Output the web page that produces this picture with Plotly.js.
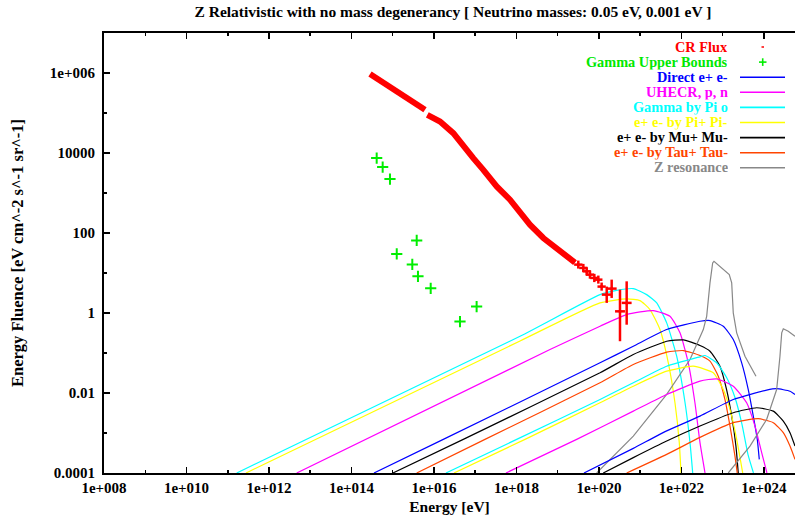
<!DOCTYPE html>
<html>
<head>
<meta charset="utf-8">
<script src="https://cdn.plot.ly/plotly-3.0.1.min.js"></script>
<style>html,body{margin:0;padding:0;background:#fff;overflow:hidden}</style>
</head>
<body>
<div id="chart" style="width:795px;height:525px"></div>
<script>
// ---------- data (Energy [eV], Fluence) ----------
const xTickVals = [1e8, 1e10, 1e12, 1e14, 1e16, 1e18, 1e20, 1e22, 1e24];
const xTickText = ["1e+008","1e+010","1e+012","1e+014","1e+016","1e+018","1e+020","1e+022","1e+024"];
const xMinorVals = [1e9, 1e11, 1e13, 1e15, 1e17, 1e19, 1e21, 1e23];
const yTickVals = [1e-4, 1e-2, 1, 100, 1e4, 1e6];
const yTickText = ["0.0001","0.01","1","100","10000","1e+006"];
const yMinorVals = [1e-3, 1e-1, 10, 1e3, 1e5];

// CR flux band (dense measurements)
const crE = [2.81e14, 8.57e14, 2.18e15, 6.05e15, null, 6.89e15, 1.40e16, 2.94e16, 5.13e16, 8.97e16, 1.57e17, 3.31e17, 6.95e17, 1.22e18, 2.12e18, 4.47e18, 9.44e18, 1.80e19, 2.62e19];
const crF = [9.49e5, 4.57e5, 2.57e5, 1.20e5, null, 8.98e4, 6.11e4, 3.13e4, 1.45e4, 7.45e3, 3.80e3, 1.46e3, 678, 316, 161, 75.0, 42.3, 23.8, 18.2];
// CR flux, highest-energy points with error bars
const crbE  = [3.15e19, 4.17e19, 5.04e19, 6.05e19, 7.71e19, 9.64e19, 1.16e20, 1.54e20, 2.03e20, 3.23e20, 4.69e20];
const crbF  = [16.2, 13.4, 11.0, 9.10, 7.52, 6.82, 4.57, 2.88, 4.07, 1.10, 1.79];
const crbUp = [4.2, 3.5, 2.9, 2.4, 2.0, 1.8, 1.2, 1.69, 2.76, 2.74, 4.40];
const crbDn = [3.3, 2.8, 2.3, 1.9, 1.6, 1.4, 0.95, 1.09, 1.69, 0.903, 1.28];
const crbEp = [8.2e18, 1.08e19, 1.31e19, 1.57e19, 2.0e19, 2.5e19, 3.0e19, 4.9e19, 6.5e19, 1.03e20, 1.49e20];
const crbEm = [6.5e18, 8.6e18, 1.04e19, 1.25e19, 1.59e19, 2.0e19, 2.4e19, 3.7e19, 4.9e19, 7.8e19, 1.13e20];

// Gamma upper bounds
const gE = [4.08e14, 5.70e14, 8.57e14, 1.25e15, 2.98e15, 3.81e15, 4.09e15, 8.32e15, 4.27e16, 1.08e17];
const gF = [7450, 4450, 2230, 29.9, 16.4, 65.3, 8.26, 4.14, 0.611, 1.45];

// Neutrino mass 0.05 eV set
const direct1E = [3.51e14, 1.68e16, 1.06e20, 6.79e20, 4.38e21, 2.81e22, 4.91e22, 1.03e23, 1.80e23, 2.88e23, 4.16e23, 5.51e23, 6.88e23, 7.69e23];
const direct1F = [1e-4, 6.92e-4, 0.0569, 0.148, 0.386, 0.621, 0.647, 0.467, 0.217, 0.0569, 0.0122, 2.64e-3, 6.92e-4, 2.19e-4];
const uhecr1E = [4.70e12, 6.49e18, 1.06e20, 4.69e20, 2.07e21, 5.26e21, 9.20e21, 1.46e22, 2.12e22, 2.81e22, 3.72e22];
const uhecr1F = [1e-4, 0.122, 0.467, 0.914, 1.15, 0.828, 0.319, 0.0569, 5.70e-3, 5.73e-4, 1e-4];
const gpi1E = [1.65e11, 1.22e18, 1.06e20, 2.69e20, 6.79e20, 1.43e21, 2.51e21, 4.38e21, 7.65e21, 1.22e22, 1.61e22, 1.87e22];
const gpi1F = [1e-4, 0.262, 2.88, 3.69, 4.07, 2.88, 1.79, 0.566, 0.0831, 5.70e-3, 5.73e-4, 1e-4];
const epi1E = [2.77e11, 1.22e18, 1.06e20, 4.69e20, 9.86e20, 1.72e21, 3.01e21, 4.79e21, 6.95e21, 8.85e21, 9.73e21];
const epi1F = [1e-4, 0.200, 1.79, 2.25, 2.04, 1.22, 0.386, 0.0569, 5.70e-3, 5.73e-4, 1e-4];
const mu1E = [1.01e15, 5.13e16, 1.06e20, 6.79e20, 4.38e21, 1.11e22, 2.81e22, 4.91e22, 8.57e22, 1.24e23, 1.65e23, 2.09e23, 2.38e23];
const mu1F = [1e-4, 6.92e-4, 0.0320, 0.0917, 0.197, 0.213, 0.154, 0.111, 0.0468, 0.0122, 2.64e-3, 4.71e-4, 1e-4];
const tau1E = [3.81e15, 1.72e17, 1.06e20, 6.79e20, 4.38e21, 1.11e22, 2.81e22, 4.91e22, 7.80e22, 1.13e23, 1.50e23, 1.98e23, 2.25e23];
const tau1F = [1e-4, 6.92e-4, 0.0180, 0.0515, 0.105, 0.115, 0.0865, 0.0624, 0.0263, 6.90e-3, 1.49e-3, 2.65e-4, 1e-4];
const z1E = [8.79e19, 6.79e20, 4.38e21, 1.61e22, 3.38e22, 4.08e22, 4.91e22, 5.70e22, 6.14e22, 1.44e23, 1.65e23, 1.80e23, 2.18e23, 3.46e23, 6.40e23];
const z1F = [1e-4, 8.37e-4, 9.20e-3, 0.0687, 0.386, 0.828, 5.65, 17.8, 19.5, 9.10, 5.65, 1.01, 0.319, 0.0831, 0.0263];

// Neutrino mass 0.001 eV set
const direct2E = [4.33e19, 6.79e20, 4.38e21, 2.81e22, 1.80e23, 1.16e24, 2.03e24, 4.27e24, 5.65e24];
const direct2F = [1e-4, 4.13e-4, 1.13e-3, 2.64e-3, 6.90e-3, 0.0118, 0.0128, 0.0111, 9.20e-3];
const uhecr2E = [5.56e17, 2.88e19, 6.79e20, 4.38e21, 2.81e22, 7.13e22, 1.80e23, 3.80e23, 6.05e23, 8.79e23, 1.18e24];
const uhecr2F = [1e-4, 6.92e-4, 3.52e-3, 9.20e-3, 0.0198, 0.0226, 0.0148, 5.70e-3, 1.49e-3, 3.22e-4, 1e-4];
const gpi2E = [1.95e16, 1.01e18, 1.06e20, 6.79e20, 4.38e21, 2.81e22, 3.72e22, 7.13e22, 1.24e23, 1.98e23, 2.93e23, 4.09e23, 5.56e23];
const gpi2F = [1e-4, 6.92e-4, 6.90e-3, 0.0180, 0.0468, 0.0803, 0.0865, 0.0569, 0.0244, 7.74e-3, 1.64e-3, 2.92e-4, 1e-4];
const epi2E = [3.05e16, 1.61e18, 1.06e20, 6.79e20, 4.38e21, 1.93e22, 5.90e22, 1.03e23, 1.50e23, 2.18e23, 3.05e23];
const epi2F = [1e-4, 6.92e-4, 5.70e-3, 0.0148, 0.0351, 0.0468, 0.0320, 0.0122, 3.88e-3, 6.92e-4, 1e-4];
const mu2E = [1.27e20, 6.79e20, 4.38e21, 2.81e22, 1.80e23, 6.65e23, 1.68e24, 2.94e24, 4.27e24, 5.65e24];
const mu2F = [1e-4, 2.42e-4, 6.28e-4, 1.49e-3, 3.21e-3, 4.28e-3, 3.52e-3, 1.98e-3, 1.02e-3, 4.71e-4];
const tau2E = [4.69e20, 4.38e21, 2.81e22, 1.80e23, 7.28e23, 1.68e24, 2.94e24, 4.27e24, 5.65e24];
const tau2F = [1e-4, 2.92e-4, 7.76e-4, 1.81e-3, 2.28e-3, 1.81e-3, 1.02e-3, 4.71e-4, 2.19e-4];
const z2E = [1.36e23, 4.58e23, 1.16e24, 2.03e24, 2.44e24, 2.69e24, 2.94e24, 3.88e24, 5.65e24];
const z2F = [1e-4, 4.71e-4, 2.18e-3, 0.0122, 0.0831, 0.319, 0.402, 0.350, 0.262];

const legendNames = ["CR Flux","Gamma Upper Bounds","Direct e+ e-","UHECR, p, n","Gamma by Pi o","e+ e- by Pi+ Pi-","e+ e- by Mu+ Mu-","e+ e- by Tau+ Tau-","Z resonance"];
const legendColors = ["#ff0000","#00e800","#0000ff","#ff00ff","#00ffff","#ffff00","#000000","#ff4500","#888888"];

// ---------- traces ----------
const C = {direct:"#0000ff", uhecr:"#ff00ff", gpi:"#00ffff", epi:"#ffff00", mu:"#000000", tau:"#ff4500", z:"#888888"};
function curve(x, y, color, shape){
  return {x:x, y:y, type:"scatter", mode:"lines", showlegend:false, hoverinfo:"skip",
          line:{color:color, width:1.2, shape:shape||"spline", smoothing:0.5}};
}
const traces = [
  curve(gpi1E, gpi1F, C.gpi), curve(epi1E, epi1F, C.epi), curve(uhecr1E, uhecr1F, C.uhecr),
  curve(direct1E, direct1F, C.direct), curve(mu1E, mu1F, C.mu), curve(tau1E, tau1F, C.tau),
  curve(z1E, z1F, C.z, "linear"),
  curve(gpi2E, gpi2F, C.gpi), curve(epi2E, epi2F, C.epi), curve(uhecr2E, uhecr2F, C.uhecr),
  curve(direct2E, direct2F, C.direct), curve(mu2E, mu2F, C.mu), curve(tau2E, tau2F, C.tau),
  curve(z2E, z2F, C.z, "linear"),
  {x:gE, y:gF, type:"scatter", mode:"markers", showlegend:false,
   marker:{symbol:"cross-thin", size:8, color:"#00ff00", line:{color:"#00ee00", width:2}}},
  {x:crE, y:crF, type:"scatter", mode:"lines", showlegend:false, connectgaps:false,
   line:{color:"#ff0000", width:6}},
  {x:crbE, y:crbF, type:"scatter", mode:"markers", showlegend:false,
   marker:{size:3, color:"#ff0000"},
   error_y:{type:"data", symmetric:false, array:crbUp, arrayminus:crbDn, color:"#ff0000", thickness:2.5, width:0},
   error_x:{type:"data", symmetric:false, array:crbEp, arrayminus:crbEm, color:"#ff0000", thickness:2.5, width:0}}
];

// ---------- legend (gnuplot style: right-aligned text, sample on right) ----------
const L0 = 104, PW = 691, B0 = 473, PH = 440;
const px = v => (v - L0) / PW, py = v => (B0 - v) / PH;
const annotations = [], shapes = [];
legendNames.forEach((name, i) => {
  const yy = 47 + i * 15.1;
  annotations.push({xref:"paper", yref:"paper", x:px(729), y:py(yy), xanchor:"right", yanchor:"middle",
    height:14.6, borderpad:0, valign:"middle",
    text:name, showarrow:false, font:{color:legendColors[i], size:14.3}});
  if (i === 0) {
    shapes.push({type:"line", xref:"paper", yref:"paper", x0:px(761.5), x1:px(764), y0:py(yy), y1:py(yy), line:{color:"#ff0000", width:1.5}});
  } else if (i === 1) {
    shapes.push({type:"line", xref:"paper", yref:"paper", x0:px(759), x1:px(766.5), y0:py(yy), y1:py(yy), line:{color:"#00ee00", width:1.6}});
    shapes.push({type:"line", xref:"paper", yref:"paper", x0:px(762.7), x1:px(762.7), y0:py(yy-3.8), y1:py(yy+3.8), line:{color:"#00ee00", width:1.6}});
  } else {
    shapes.push({type:"line", xref:"paper", yref:"paper", x0:px(740), x1:px(785), y0:py(yy), y1:py(yy), line:{color:legendColors[i], width:1.6}});
  }
});

const layout = {
  width:795, height:525,
  margin:{l:104, r:0, t:33, b:52, pad:0},
  paper_bgcolor:"#ffffff", plot_bgcolor:"#ffffff",
  font:{family:"Liberation Serif, Times New Roman, serif", size:15, color:"#000", weight:"bold"},
  title:{text:"Z Relativistic with no mass degenerancy [ Neutrino masses: 0.05 eV, 0.001 eV ]",
         xref:"container", x:453/795, xanchor:"center", yref:"container", y:1-12/525, yanchor:"middle",
         font:{size:15.5, weight:"bold"}},
  xaxis:{type:"log", range:[8, 24.752], tickmode:"array", tickvals:xTickVals, ticktext:xTickText,
         ticks:"inside", ticklen:6, tickwidth:1.5, tickcolor:"#000",
         showline:true, linewidth:2, linecolor:"#000", mirror:"ticks",
         showgrid:false, zeroline:false,
         minor:{tickmode:"array", tickvals:xMinorVals, ticks:"inside", ticklen:3, tickwidth:1.5, tickcolor:"#000", showgrid:false},
         tickfont:{size:15}, title:{text:"Energy [eV]", font:{size:15.5}, standoff:6}},
  yaxis:{type:"log", range:[-4, 7], tickmode:"array", tickvals:yTickVals, ticktext:yTickText,
         ticks:"inside", ticklen:6, tickwidth:1.5, tickcolor:"#000",
         showline:true, linewidth:2, linecolor:"#000", mirror:false,
         showgrid:false, zeroline:false, ticklabelstandoff:4,
         minor:{tickmode:"array", tickvals:yMinorVals, ticks:"inside", ticklen:3, tickwidth:1.5, tickcolor:"#000", showgrid:false},
         tickfont:{size:15}, title:{text:"Energy Fluence [eV cm^-2 s^-1 sr^-1]", font:{size:16.5}, standoff:22}},
  annotations:annotations, shapes:shapes, showlegend:false
};

Plotly.newPlot("chart", traces, layout, {staticPlot:true, displayModeBar:false});
</script>
</body>
</html>
